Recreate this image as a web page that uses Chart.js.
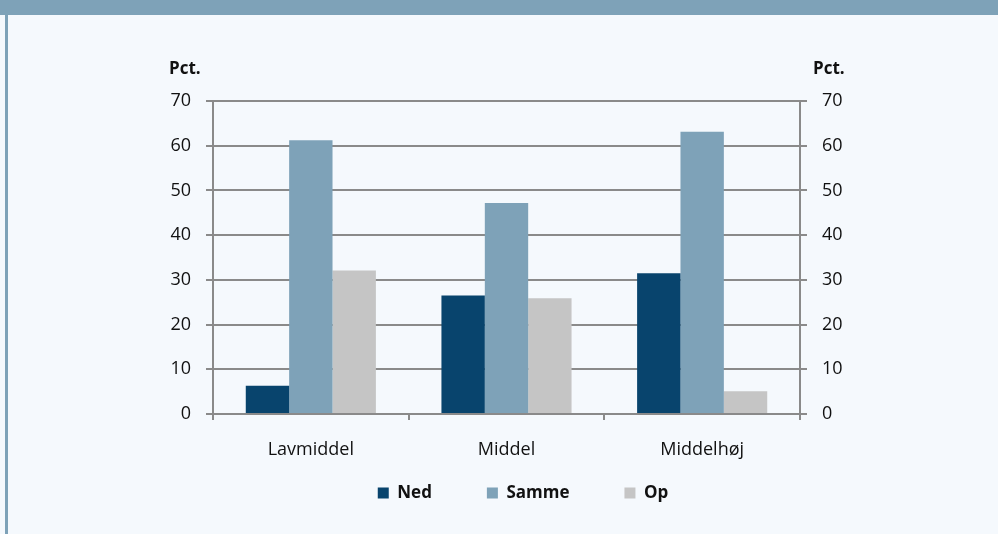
<!DOCTYPE html>
<html>
<head>
<meta charset="utf-8">
<script src="https://cdn.jsdelivr.net/npm/chart.js@4/dist/chart.umd.min.js"></script>
<style>
html,body{margin:0;padding:0;background:#f5f9fd;}
canvas{display:block;}
</style>
</head>
<body>
<canvas id="c" width="998" height="534"></canvas>
<script>
const categories = ['Lavmiddel', 'Middel', 'Middelhøj'];
const seriesNames = ['Ned', 'Samme', 'Op'];
const ned = [6.3, 26.5, 31.5];
const samme = [61.2, 47.2, 63.1];
const op = [32.1, 25.9, 5.1];
const axisUnit = 'Pct.';
const yMin = 0, yMax = 70, yStep = 10;

const colors = ['#08446d', '#7ea2b8', '#c5c5c5'];
const FONT = '"Open Sans", Lato, sans-serif';
const gridColor = '#8a8a8a';

const decor = {
  id: 'decor',
  beforeDraw(chart) {
    const ctx = chart.ctx;
    ctx.save();
    ctx.fillStyle = '#f5f9fd';
    ctx.fillRect(0, 0, chart.width, chart.height);
    ctx.fillStyle = '#7ea2b8';
    ctx.fillRect(0, 0, chart.width, 15);
    ctx.fillRect(5, 15, 3, chart.height - 15);
    ctx.restore();
  },
  afterDraw(chart) {
    const ctx = chart.ctx;
    ctx.save();
    ctx.fillStyle = '#111';
    ctx.font = 'bold 17px ' + FONT;
    ctx.textBaseline = 'alphabetic';
    ctx.textAlign = 'left';
    ctx.fillText(axisUnit, 169, 74);
    ctx.fillText(axisUnit, 813, 74);
    ctx.restore();
  }
};

new Chart(document.getElementById('c'), {
  type: 'bar',
  data: {
    labels: categories,
    datasets: [
      { label: seriesNames[0], data: ned, backgroundColor: colors[0] },
      { label: seriesNames[1], data: samme, backgroundColor: colors[1] },
      { label: seriesNames[2], data: op, backgroundColor: colors[2] }
    ]
  },
  options: {
    responsive: false,
    animation: false,
    layout: { padding: { left: 48, right: 0, top: 101, bottom: 22.5 } },
    datasets: { bar: { barPercentage: 1, categoryPercentage: 0.665, borderWidth: 0 } },
    plugins: {
      tooltip: { enabled: false },
      legend: {
        position: 'bottom',
        labels: {
          boxWidth: 11, boxHeight: 11, padding: 55,
          color: '#111',
          font: { family: FONT, size: 17, weight: 'bold' }
        }
      }
    },
    scales: {
      x: {
        afterFit(s) { s.height = 15.5; s._computeLabelArea = () => undefined; },
        grid: { drawOnChartArea: false, drawTicks: true, tickLength: 6, color: gridColor, lineWidth: 2, offset: true },
        border: { display: true, color: gridColor, width: 2 },
        ticks: { color: '#111', padding: 19, font: { family: FONT, size: 18 } }
      },
      y: {
        position: 'left',
        min: yMin, max: yMax,
        afterFit(s) { s.width = 213 - 48; },
        ticks: { stepSize: yStep, color: '#111', padding: 15, font: { family: FONT, size: 18 } },
        grid: { color: gridColor, lineWidth: 2, tickLength: 7 },
        border: { display: true, color: gridColor, width: 2 }
      },
      y2: {
        position: 'right',
        min: yMin, max: yMax,
        afterFit(s) { s.width = 998 - 800; },
        ticks: { stepSize: yStep, color: '#111', padding: 15, font: { family: FONT, size: 18 } },
        grid: { drawOnChartArea: false, color: gridColor, lineWidth: 2, tickLength: 7 },
        border: { display: true, color: gridColor, width: 2 }
      }
    }
  },
  plugins: [decor]
});
</script>
</body>
</html>
